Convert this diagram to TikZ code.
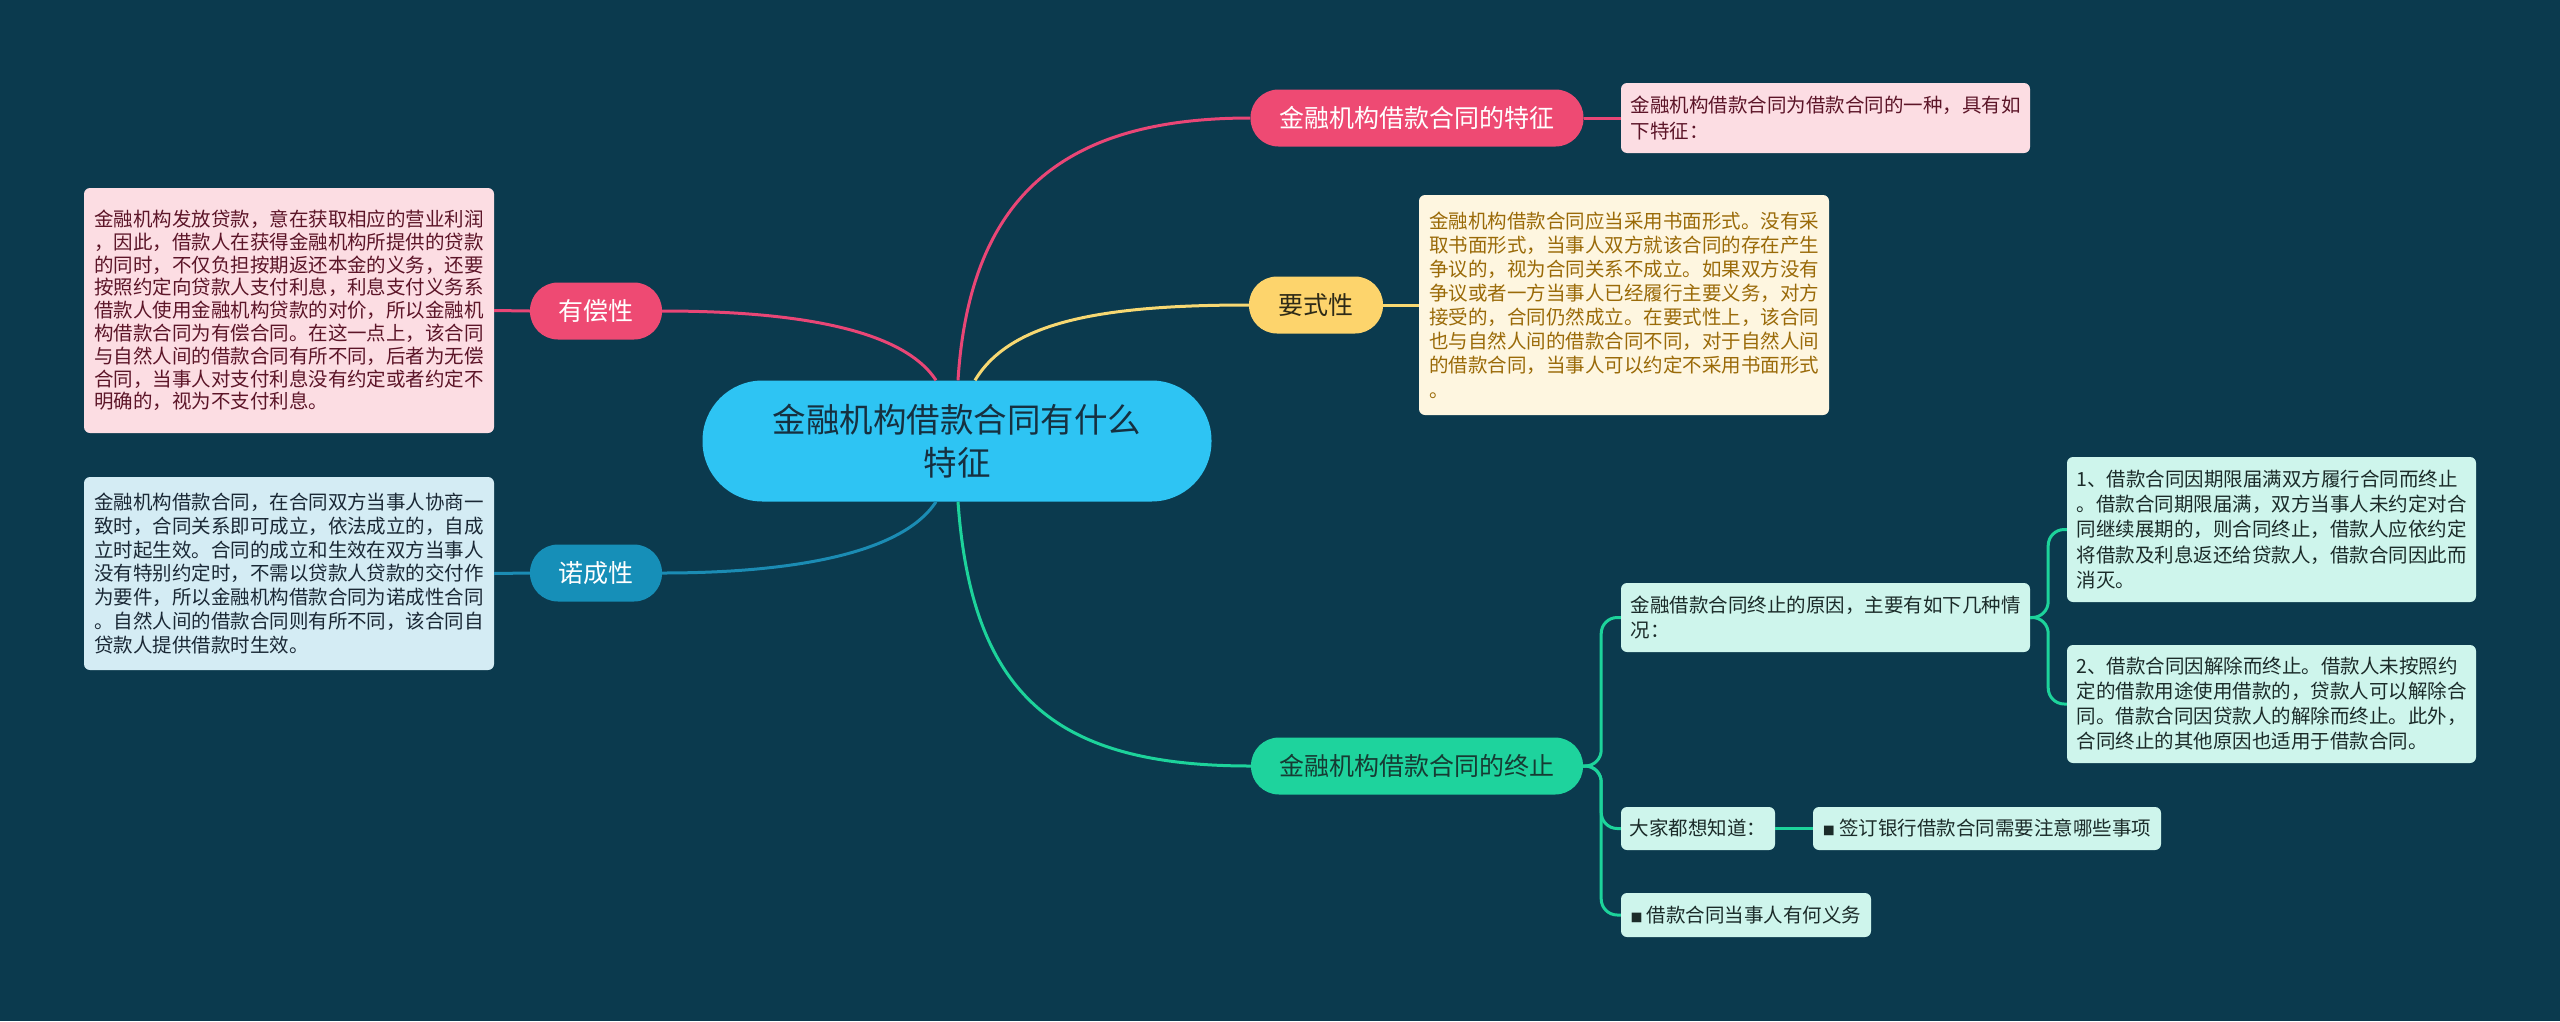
\documentclass[tikz,border=0pt]{standalone}
\usepackage{fontspec}
\setmainfont{Noto Sans CJK SC}
\usetikzlibrary{calc}
\definecolor{bg}{HTML}{0B3A4E}
\definecolor{cfill}{HTML}{2EC4F3}
\definecolor{ctext}{HTML}{163040}
\definecolor{pinkfill}{HTML}{EE4A73}
\definecolor{pinkbox}{HTML}{FCDDE3}
\definecolor{pinktext}{HTML}{5C1528}
\definecolor{yfill}{HTML}{FDD46C}
\definecolor{ytext}{HTML}{2E2A17}
\definecolor{creambox}{HTML}{FEF6E0}
\definecolor{creamtext}{HTML}{9A6A08}
\definecolor{gfill}{HTML}{1ED39D}
\definecolor{gtext}{HTML}{163B33}
\definecolor{mintbox}{HTML}{CEF5EC}
\definecolor{minttext}{HTML}{1B2B29}
\definecolor{bfill}{HTML}{168FB8}
\definecolor{bluebox}{HTML}{D4ECF4}
\definecolor{bluetext}{HTML}{1A2835}
\definecolor{pinkline}{HTML}{E94676}
\definecolor{yline}{HTML}{F7D872}
\definecolor{bline}{HTML}{1B8CB4}
\definecolor{gline}{HTML}{1DD39B}
\tikzset{
  pill/.style={rectangle, rounded corners=28pt, minimum height=57pt, inner sep=0pt, font=\fontsize{25}{25}\selectfont},
  box/.style={rectangle, rounded corners=6pt, inner sep=0pt, align=left},
  conn/.style={line width=3pt},
}
\begin{document}
\begin{tikzpicture}[x=1pt,y=-1pt]
\fill[bg] (0,0) rectangle (2560,1021);
\useasboundingbox (0,0) rectangle (2560,1021);

% central node
\node[rectangle, rounded corners=60pt, fill=cfill, text=ctext, minimum width=509pt, minimum height=121pt, inner sep=0pt, align=center, font=\fontsize{33.5}{43}\selectfont] (c) at (957,441) {金融机构借款合同有什么\\特征};

% main branches
\node[pill, fill=pinkfill, text=white, minimum width=333pt] (t) at (1417,118) {金融机构借款合同的特征};
\node[pill, fill=yfill, text=ytext, minimum width=134pt] (y) at (1316,305) {要式性};
\node[pill, fill=gfill, text=gtext, minimum width=332pt] (z) at (1417,766) {金融机构借款合同的终止};
\node[pill, fill=pinkfill, text=white, minimum width=132pt] (p) at (596,311) {有偿性};
\node[pill, fill=bfill, text=white, minimum width=132pt] (n) at (596,573) {诺成性};

% detail boxes
\node[box, fill=pinkbox, text=pinktext, minimum width=409pt, minimum height=70pt, font=\fontsize{19.5}{26}\selectfont] (tb) at (1825.5,118) {金融机构借款合同为借款合同的一种，具有如\\下特征：};

\node[box, fill=creambox, text=creamtext, minimum width=410pt, minimum height=220pt, font=\fontsize{19.5}{24.1}\selectfont] (yb) at (1624,305) {金融机构借款合同应当采用书面形式。没有采\\取书面形式，当事人双方就该合同的存在产生\\争议的，视为合同关系不成立。如果双方没有\\争议或者一方当事人已经履行主要义务，对方\\接受的，合同仍然成立。在要式性上，该合同\\也与自然人间的借款合同不同，对于自然人间\\的借款合同，当事人可以约定不采用书面形式\\。};

\node[box, fill=pinkbox, text=pinktext, minimum width=410pt, minimum height=245pt, font=\fontsize{19.5}{22.8}\selectfont] (pb) at (289,310.5) {金融机构发放贷款，意在获取相应的营业利润\\，因此，借款人在获得金融机构所提供的贷款\\的同时，不仅负担按期返还本金的义务，还要\\按照约定向贷款人支付利息，利息支付义务系\\借款人使用金融机构贷款的对价，所以金融机\\构借款合同为有偿合同。在这一点上，该合同\\与自然人间的借款合同有所不同，后者为无偿\\合同，当事人对支付利息没有约定或者约定不\\明确的，视为不支付利息。};

\node[box, fill=bluebox, text=bluetext, minimum width=410pt, minimum height=193pt, font=\fontsize{19.5}{23.9}\selectfont] (nb) at (289,573.5) {金融机构借款合同，在合同双方当事人协商一\\致时，合同关系即可成立，依法成立的，自成\\立时起生效。合同的成立和生效在双方当事人\\没有特别约定时，不需以贷款人贷款的交付作\\为要件，所以金融机构借款合同为诺成性合同\\。自然人间的借款合同则有所不同，该合同自\\贷款人提供借款时生效。};

\node[box, fill=mintbox, text=minttext, minimum width=409pt, minimum height=69pt, font=\fontsize{19.5}{25}\selectfont] (rb) at (1825.5,617.5) {金融借款合同终止的原因，主要有如下几种情\\况：};

\node[box, fill=mintbox, text=minttext, minimum width=154pt, minimum height=43pt, font=\fontsize{19.5}{25}\selectfont] (dj) at (1698,828.5) {大家都想知道：};

\node[box, fill=mintbox, text=minttext, minimum width=348pt, minimum height=43pt, font=\fontsize{19.5}{25}\selectfont] (qd) at (1987,828.5) {{\fontsize{12}{12}\selectfont ■} 签订银行借款合同需要注意哪些事项};

\node[box, fill=mintbox, text=minttext, minimum width=250pt, minimum height=44pt, font=\fontsize{19.5}{25}\selectfont] (jk) at (1746,915) {{\fontsize{12}{12}\selectfont ■} 借款合同当事人有何义务};

\node[box, fill=mintbox, text=minttext, minimum width=409pt, minimum height=145pt, font=\fontsize{19.5}{25.4}\selectfont] (r1) at (2271.5,529.5) {1、借款合同因期限届满双方履行合同而终止\\。借款合同期限届满，双方当事人未约定对合\\同继续展期的，则合同终止，借款人应依约定\\将借款及利息返还给贷款人，借款合同因此而\\消灭。};

\node[box, fill=mintbox, text=minttext, minimum width=409pt, minimum height=118pt, font=\fontsize{19.5}{25}\selectfont] (r2) at (2271.5,704) {2、借款合同因解除而终止。借款人未按照约\\定的借款用途使用借款的，贷款人可以解除合\\同。借款合同因贷款人的解除而终止。此外，\\合同终止的其他原因也适用于借款合同。};

% connectors from centre
\draw[conn, pinkline] ([xshift=1pt]c.north) .. controls (970,190) and (1070,118) .. (t.west);
\draw[conn, yline] ([xshift=18pt]c.north) .. controls (1010,322) and (1100,305) .. (y.west);
\draw[conn, pinkline] ([xshift=-21pt]c.north) .. controls (900,325) and (780,311) .. (p.east);
\draw[conn, bline] ([xshift=-21pt]c.south) .. controls (900,557) and (780,573) .. (n.east);
\draw[conn, gline] ([xshift=1pt]c.south) .. controls (972,700) and (1060,766) .. (z.west);

% short links
\draw[conn, pinkline] (t.east) -- (tb.west);
\draw[conn, yline] (y.east) -- (yb.west);
\draw[conn, pinkline] (p.west) -- (pb.east);
\draw[conn, bline] (n.west) -- (nb.east);
\draw[conn, gline] (dj.east) -- (qd.west);

% bracket links
\draw[conn, gline, rounded corners=16pt] (z.east) -- ++(18,0) |- (rb.west);
\draw[conn, gline, rounded corners=16pt] (z.east) -- ++(18,0) |- (dj.west);
\draw[conn, gline, rounded corners=16pt] (z.east) -- ++(18,0) |- (jk.west);
\draw[conn, gline, rounded corners=16pt] (rb.east) -- ++(18,0) |- (r1.west);
\draw[conn, gline, rounded corners=16pt] (rb.east) -- ++(18,0) |- (r2.west);
\end{tikzpicture}
\end{document}
